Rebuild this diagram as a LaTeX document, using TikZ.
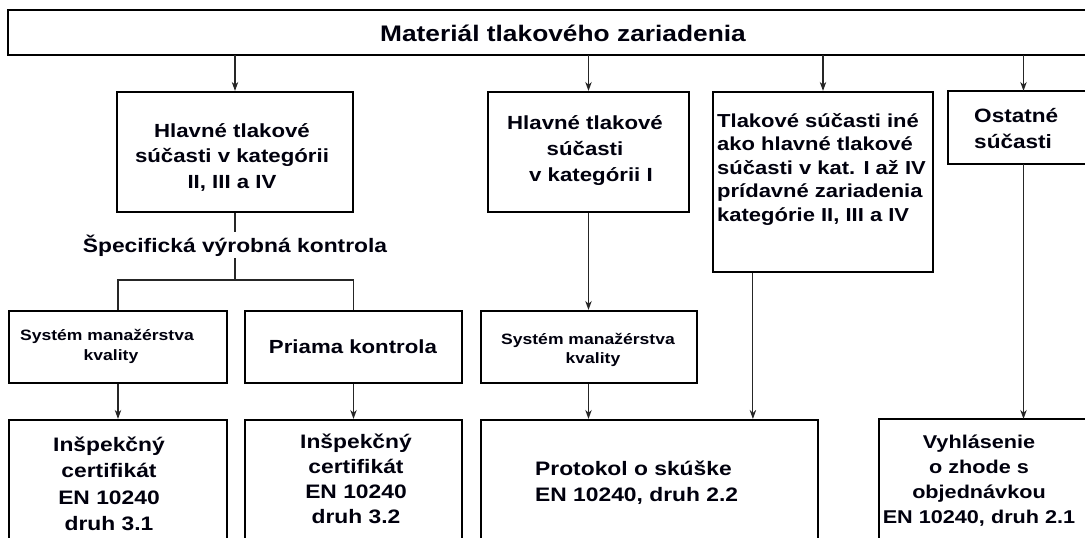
\documentclass[tikz,border=0pt]{standalone}
\usepackage{fontspec}
\setmainfont{Liberation Sans}[FakeStretch=1.17]
\usetikzlibrary{arrows.meta}
\newcommand\mlc[1]{\begin{tabular}[t]{@{}c@{}}#1\end{tabular}}
\newcommand\mll[1]{\begin{tabular}[t]{@{}l@{}}#1\end{tabular}}
\newcommand\fsz[2]{\fontsize{#1}{#2}\selectfont\bfseries}
\begin{document}
\begin{tikzpicture}[x=1pt,y=-1pt,
  box/.style={draw=black, line width=2.2pt, inner sep=0pt},
  openbox/.style={draw=none, line width=2.2pt, inner sep=0pt},
  edge/.style={draw=black, line width=2.2pt},
  con/.style={draw=black!85, line width=1.1pt},
  arr/.style={con, -{Stealth[length=9pt,width=6.5pt]}},
  txt/.style={inner sep=0pt, anchor=base, text=black!95!blue}]
\useasboundingbox (0,0) rectangle (1085,538);
\clip (0,0) rectangle (1085,538);
% boxes
\node[openbox, minimum width=1191pt, minimum height=43pt] (T) at (604.5,32.5) {};
\node[box, minimum width=236pt, minimum height=120pt] (A) at (235,152) {};
\node[box, minimum width=201pt, minimum height=120pt] (B) at (588.5,152) {};
\node[box, minimum width=220pt, minimum height=180pt] (C) at (823,182) {};
\node[openbox, minimum width=149pt, minimum height=71pt] (D) at (1023.5,127.5) {};
\node[box, minimum width=218pt, minimum height=72pt] (S1) at (118,347) {};
\node[box, minimum width=217pt, minimum height=72pt] (P) at (353.5,347) {};
\node[box, minimum width=216pt, minimum height=72pt] (S2) at (589,347) {};
\node[box, minimum width=218pt, minimum height=150pt] (I1) at (118,495) {};
\node[box, minimum width=217pt, minimum height=150pt] (I2) at (353.5,495) {};
\node[box, minimum width=337pt, minimum height=150pt] (PR) at (649.5,495) {};
\node[openbox, minimum width=300pt, minimum height=150pt] (V) at (1030,495) {};
\draw[edge] (T.north east) -- (T.north west) -- (T.south west) -- (T.south east);
\draw[edge] (D.north east) -- (D.north west) -- (D.south west) -- (D.south east);
\draw[edge] (V.north east) -- (V.north west) -- (V.south west);
% texts
\node[txt, font=\fsz{22.5}{27}] (tT) at (563,41) {Materiál tlakového zariadenia};
\node[txt, font=\fsz{19}{25.5}] (tA) at (232,137) {\mlc{Hlavné tlakové\\súčasti v kategórii\\II, III a IV}};
\node[txt, font=\fsz{19}{26}] (tB) at (585,129) {\mlc{Hlavné tlakové\hspace{9pt}\\súčasti\\\hspace{12pt}v kategórii I}};
\node[txt, anchor=base west, font=\fsz{18.8}{23.5}] (tC) at (717,127) {\mll{Tlakové súčasti iné\\ako hlavné tlakové\\súčasti v kat. I až IV\\prídavné zariadenia\\kategórie II, III a IV}};
\node[txt, anchor=base west, font=\fsz{19.3}{26}] (tD) at (974,122) {\mll{Ostatné\\súčasti}};
\node[txt, font=\fsz{19.5}{24}, inner sep=2pt] (L) at (235,252) {Špecifická výrobná kontrola};
\node[txt, font=\fsz{15}{20}] (tS1) at (107,340) {\mlc{Systém manažérstva\\\hspace{8pt}kvality}};
\node[txt, font=\fsz{19}{24}] (tP) at (353,353) {Priama kontrola};
\node[txt, font=\fsz{15}{19.5}] (tS2) at (588,344) {\mlc{Systém manažérstva\\\hspace{10pt}kvality}};
\node[txt, font=\fsz{19.5}{26.5}] (tI1) at (109,451) {\mlc{Inšpekčný\\certifikát\\EN 10240\\druh 3.1}};
\node[txt, font=\fsz{19.5}{25}] (tI2) at (356,448) {\mlc{Inšpekčný\\certifikát\\EN 10240\\druh 3.2}};
\node[txt, anchor=base west, font=\fsz{19.5}{26}] (tPR) at (535,475) {\mll{Protokol o skúške\\EN 10240, druh 2.2}};
\node[txt, font=\fsz{18.5}{25}] (tV) at (979,448) {\mlc{Vyhlásenie\\o zhode s\\objednávkou\\EN 10240, druh 2.1}};
% connectors
\draw[arr] (T.south -| A.north) -- (A.north);
\draw[arr] (T.south -| B.north) -- (B.north);
\draw[arr] (T.south -| C.north) -- (C.north);
\draw[arr] (T.south -| D.north) -- (D.north);
\draw[con] (A.south) -- (L.north);
\coordinate (J) at (235,280);
\draw[con] (L.south) -- (J);
\draw[con] (S1.north) -- (S1.north |- J) -- (P.north |- J) -- (P.north);
\draw[arr] (S1.south) -- (I1.north);
\draw[arr] (P.south) -- (I2.north);
\draw[arr] (B.south) -- (B.south |- S2.north);
\draw[arr] (B.south |- S2.south) -- (B.south |- PR.north);
\draw[arr] ([xshift=41pt]C.south west) -- ([xshift=41pt]C.south west |- PR.north);
\draw[arr] (D.south) -- (D.south |- V.north);
\end{tikzpicture}
\end{document}
